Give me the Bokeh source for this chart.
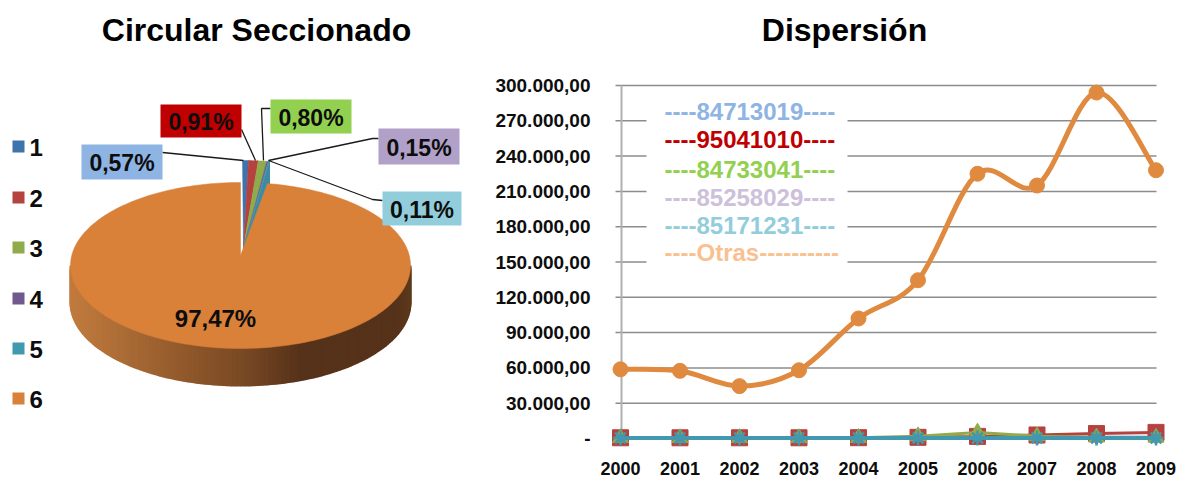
import numpy as np
from bokeh.plotting import figure
from bokeh.layouts import row
from bokeh.models import Range1d, FixedTicker
from bokeh.core.properties import value
from bokeh.embed import file_html
from bokeh.resources import INLINE

# ---------- data ----------
pie_names = ["1", "2", "3", "4", "5", "6"]
pie_values = [0.57, 0.91, 0.80, 0.15, 0.11, 97.47]
pie_labels = ["0,57%", "0,91%", "0,80%", "0,15%", "0,11%", "97,47%"]
pie_colors = ["#3F73AB", "#B5423F", "#8FAB4A", "#71588F", "#4198AF", "#D98039"]
label_colors = ["#8DB4E3", "#C00000", "#92D050", "#B1A0C7", "#92CDDC"]

years = [2000, 2001, 2002, 2003, 2004, 2005, 2006, 2007, 2008, 2009]
s_84713019 = [700, 700, 700, 700, 800, 800, 900, 900, 1000, 1000]
s_95041010 = [600, 600, 600, 600, 700, 1000, 1800, 3000, 4200, 5200]
s_84733041 = [500, 500, 500, 500, 600, 2000, 5200, 2000, 1000, 800]
s_85258029 = [300, 300, 300, 300, 300, 400, 500, 500, 500, 500]
s_85171231 = [400, 400, 400, 400, 400, 400, 400, 400, 400, 400]
s_otras = [58800, 57500, 44500, 58000, 102000, 134500, 225000, 215000, 294000, 228000]
y_ticks = [0, 30000, 60000, 90000, 120000, 150000, 180000, 210000, 240000, 270000, 300000]
y_tick_labels = ["-", "30.000,00", "60.000,00", "90.000,00", "120.000,00", "150.000,00",
                 "180.000,00", "210.000,00", "240.000,00", "270.000,00", "300.000,00"]
legend_texts = ["----84713019----", "----95041010----", "----84733041----",
                "----85258029----", "----85171231----", "----Otras----------"]
legend_colors = ["#8DB4E3", "#C00000", "#92D050", "#CCC0DA", "#92CDDC", "#FAC090"]

FONT = value("Liberation Sans")


def txt(p, x, y, s, size, color="#000000", align="center", **kw):
    p.text([x], [y], text=[s], text_font=FONT, text_font_style="bold",
           text_font_size=f"{size}px", text_color=color, text_align=align,
           text_baseline="middle", **kw)


# ---------- left: 3-D exploded pie (range = page pixels) ----------
p1 = figure(width=480, height=477, x_range=Range1d(0, 480), y_range=Range1d(450, 0),
            x_axis_type=None, y_axis_type=None,
            output_backend="svg", toolbar_location=None, min_border=0, min_border_bottom=27)
p1.grid.visible = False
p1.outline_line_color = None

cx, cy, rx, ry, depth = 240.0, 265.0, 170.0, 83.0, 37.0
bx, by = 242.0, 243.0          # exploded small slices
ax, ay = 243.0, 247.0          # their apex

cum = np.cumsum([0] + pie_values) / sum(pie_values) * 2 * np.pi


def rim(c0, c1, a, b, n):
    t = np.linspace(a, b, n)
    return c0 + rx * np.sin(t), c1 - ry * np.cos(t)


# cut face of the last small slice
fx, fy = rim(bx, by, cum[5], cum[5], 1)
p1.patch([ax, fx[0], fx[0], ax], [ay, fy[0], fy[0] + depth, ay + depth],
         fill_color="#3B8CA3", line_color="#3B8CA3")
for i in range(5):
    x, y = rim(bx, by, cum[i], cum[i + 1], 8)
    p1.patch(np.r_[ax, x], np.r_[ay, y], fill_color=pie_colors[i], line_color=pie_colors[i], line_width=0.5)

# wall of the big slice, shaded from left to right
stops_x = [70, 100, 200, 240, 300, 395, 410]
stops_rgb = np.array([[193, 123, 62], [181, 115, 58], [138, 84, 41], [122, 74, 37],
                      [86, 50, 26], [86, 50, 26], [94, 58, 28]], dtype=float)
edges = np.linspace(np.pi / 2, 3 * np.pi / 2, 121)
xs, ys, cols = [], [], []
for a, b in zip(edges[:-1], edges[1:]):
    xa, ya = rim(cx, cy, a, b, 2)
    xs.append([xa[0], xa[1], xa[1], xa[0]])
    ys.append([ya[0], ya[1], ya[1] + depth, ya[0] + depth])
    m = (xa[0] + xa[1]) / 2
    r, g, bl = [int(np.interp(m, stops_x, stops_rgb[:, k])) for k in range(3)]
    cols.append(f"#{r:02x}{g:02x}{bl:02x}")
p1.patches(xs, ys, fill_color=cols, line_color=cols, line_width=2)

x, y = rim(cx, cy, cum[5], cum[6], 240)
p1.patch(np.r_[cx, x], np.r_[cy - 10, y], fill_color=pie_colors[5], line_color=pie_colors[5], line_width=0.5)

# leader lines
leaders = [([162, 243], [152, 160]), ([241, 255], [129, 160]),
           ([270, 261, 263], [108, 108, 160]), ([378, 372, 268], [138, 138, 160]),
           ([382, 372, 268], [200, 199, 160])]
for lx, ly in leaders:
    p1.line(lx, ly, line_color="#1a1a1a", line_width=1.3)

# data-label boxes
boxes = [(81, 162, 144, 179), (160, 241, 104, 137), (270, 351, 99, 133),
         (378, 459, 128, 164), (382, 461, 191, 225)]
for (l, r, t, b), c, s in zip(boxes, label_colors, pie_labels):
    p1.quad(left=[l], right=[r], top=[t], bottom=[b], fill_color=c, line_color=None)
    txt(p1, (l + r) / 2, (t + b) / 2 + 1, s, 23, "#0d0d0d")
txt(p1, 215, 318, pie_labels[5], 24, "#0d0d0d")

# legend
for nm, c, ly in zip(pie_names, pie_colors, [146, 197, 247, 298, 348, 398]):
    p1.quad(left=[12], right=[24], top=[ly - 6], bottom=[ly + 6], fill_color=c, line_color=None)
    txt(p1, 29, ly + 1, nm, 24, "#0d0d0d", align="left")

txt(p1, 256, 29, "Circular Seccionado", 32)

# ---------- right: line chart ----------
FL, FR, FT, FB = 600.0, 1180.0, 0.0, 450.0
X0, XSTEP = 620.0, 59.5          # pixel of 2000, pixels per year
Y0, YK = 438.0, 353.0 / 300000   # pixel of zero, pixels per unit

p2 = figure(width=700, height=477,
            x_range=Range1d(2000 + (FL - X0) / XSTEP, 2000 + (FR - X0) / XSTEP),
            y_range=Range1d((Y0 - FB) / YK, (Y0 - FT) / YK),
            output_backend="svg", toolbar_location=None,
            min_border_left=int(FL - 480), min_border_right=0, min_border_top=0,
            min_border_bottom=int(477 - FB))
p2.extra_x_ranges["px"] = Range1d(FL, FR)
p2.extra_y_ranges["px"] = Range1d(FB, FT)
p2.grid.visible = False
p2.outline_line_color = None

for ax_ in (p2.xaxis[0], p2.yaxis[0]):
    ax_.axis_line_color = None
    ax_.major_tick_line_color = None
    ax_.minor_tick_line_color = None
    ax_.major_label_text_font = "Liberation Sans"
    ax_.major_label_text_font_style = "bold"
    ax_.major_label_text_color = "#0d0d0d"
p2.xaxis[0].ticker = FixedTicker(ticks=years)
p2.xaxis[0].major_label_overrides = {y: str(y) for y in years}
p2.xaxis[0].major_label_text_font_size = "18px"
p2.xaxis[0].major_label_standoff = 5
p2.yaxis[0].ticker = FixedTicker(ticks=y_ticks)
p2.yaxis[0].major_label_overrides = dict(zip(y_ticks, y_tick_labels))
p2.yaxis[0].major_label_text_font_size = "19px"
p2.yaxis[0].major_label_standoff = 4

# gridlines and axis line
p2.segment(x0=[615] * 11, x1=[1156] * 11, y0=y_ticks, y1=y_ticks, x_range_name="px",
           line_color="#8C8C8C", line_width=1.5)
p2.segment(x0=[621], x1=[621], y0=[y_ticks[0]], y1=[y_ticks[-1]], x_range_name="px",
           line_color="#B0B0B0", line_width=2)

# white box behind the text legend
p2.quad(left=[646], right=[847], top=[97], bottom=[268], x_range_name="px", y_range_name="px",
        fill_color="#FFFFFF", line_color=None)
for s, c, ly in zip(legend_texts, legend_colors, [111, 139, 169, 197, 225, 252]):
    txt(p2, 664, ly, s, 24, c, align="left", x_range_name="px", y_range_name="px")

# flat series near zero
p2.line(years, s_84713019, line_color="#3F73AB", line_width=3)
p2.scatter(years, s_84713019, marker="diamond", size=15, color="#3F73AB")
p2.line(years, s_95041010, line_color="#B5423F", line_width=3)
p2.scatter(years, s_95041010, marker="square", size=16, color="#B5423F")
p2.line(years, s_84733041, line_color="#8FAB4A", line_width=3)
p2.scatter(years, s_84733041, marker="triangle", size=16, color="#8FAB4A")
p2.line(years, s_85258029, line_color="#71588F", line_width=3)
p2.scatter(years, s_85258029, marker="x", size=13, line_color="#71588F", line_width=2)
p2.line(years, s_85171231, line_color="#4198AF", line_width=4)
p2.scatter(years, s_85171231, marker="asterisk", size=15, line_color="#4198AF", line_width=2.5)

# smoothed series: Bezier segments through the data points
xv, yv = np.array(years, float), np.array(s_otras, float)
xp = np.r_[xv[0], xv, xv[-1]]
yp = np.r_[yv[0], yv, yv[-1]]
k = 1 / 6
p2.bezier(x0=xv[:-1], y0=yv[:-1], x1=xv[1:], y1=yv[1:],
          cx0=xv[:-1] + (xp[2:-1] - xp[:-3]) * k, cy0=yv[:-1] + (yp[2:-1] - yp[:-3]) * k,
          cx1=xv[1:] - (xp[3:] - xp[1:-2]) * k, cy1=yv[1:] - (yp[3:] - yp[1:-2]) * k,
          line_color="#DF8A3F", line_width=5)
p2.scatter(years, s_otras, marker="circle", size=15, color="#DF8A3F")

txt(p2, 844, 29, "Dispersión", 32, x_range_name="px", y_range_name="px")

open("out.html", "w").write(file_html(row(p1, p2, spacing=0), INLINE))
